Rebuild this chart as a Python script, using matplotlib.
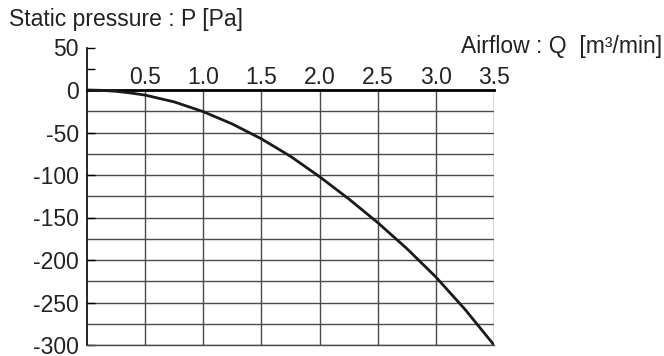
import numpy as np
import matplotlib
matplotlib.use('Agg')
import matplotlib.pyplot as plt

plt.rcParams['font.family'] = ['Liberation Sans', 'DejaVu Sans']

# fan curve
airflow = [0.0, 0.125, 0.25, 0.375, 0.5, 0.75, 1.0, 1.25, 1.5, 1.75, 2.0, 2.25, 2.5, 2.75, 3.0, 3.25, 3.5]
pressure = [0, -0.4, -1.5, -3.5, -6, -14, -25.5, -40, -57.5, -78, -102, -128, -156, -186.5, -220, -258, -300]

x_ticks = [0.5, 1.0, 1.5, 2.0, 2.5, 3.0, 3.5]
x_labels = ['0.5', '1.0', '1.5', '2.0', '2.5', '3.0', '3.5']
y_ticks = [50, 0, -50, -100, -150, -200, -250, -300]
y_labels = ['50', '0', '-50', '-100', '-150', '-200', '-250', '-300']

W, H = 664, 356
fig = plt.figure(figsize=(W / 100, H / 100), dpi=100)
ax = fig.add_axes([87 / W, (H - 345) / H, (494 - 87) / W, (345 - 47.5) / H])
ax.set_xlim(0, 3.5)
ax.set_ylim(-300, 50)

# grid only below the zero line
grid_c = '#4a4a4a'
ax.vlines(np.arange(0.5, 3.51, 0.5), -300, 0, color=grid_c, lw=1.0, zorder=1)
ax.hlines(np.arange(-25, -301, -25), 0, 3.5, color=grid_c, lw=1.0, zorder=1)

ax.plot(airflow, pressure, color='#1a1a1a', lw=2.0, zorder=3, solid_joinstyle='round')

ax.spines['right'].set_visible(False)
ax.spines['top'].set_position(('data', 0))
ax.spines['top'].set_linewidth(2.0)
ax.spines['left'].set_linewidth(1.2)
ax.spines['bottom'].set_linewidth(1.0)
ax.spines['bottom'].set_color(grid_c)

fs = 16.5
ax.xaxis.tick_top()
ax.set_xticks(x_ticks)
ax.set_xticklabels(x_labels, fontsize=fs, color='#222222')
ax.tick_params(axis='x', length=0, pad=1)

ax.set_yticks(y_ticks)
ax.set_yticklabels(y_labels, fontsize=fs, color='#222222')
ax.set_yticks([25], minor=True)
ax.tick_params(axis='y', which='both', direction='in', length=6, width=1.0, pad=6)

fig.text(9 / W, 1 - 26 / H, 'Static pressure : P [Pa]', fontsize=fs, color='#222222',
         ha='left', va='baseline')
fig.text(662 / W, 1 - 53 / H, 'Airflow : Q  [m³/min]', fontsize=fs, color='#222222',
         ha='right', va='baseline')

fig.savefig('out.png', dpi=100)
